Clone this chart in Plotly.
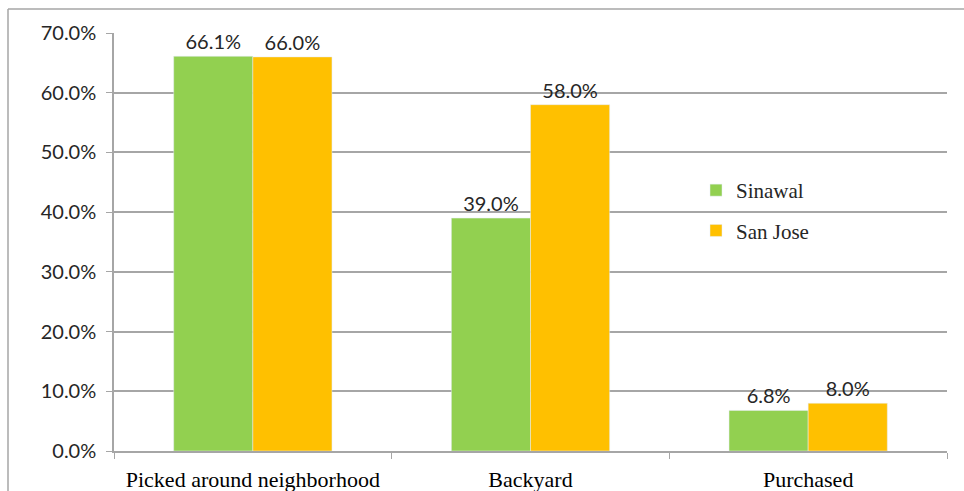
import plotly.graph_objects as go

categories = ["Picked around neighborhood", "Backyard", "Purchased"]
sinawal = [0.661, 0.390, 0.068]
san_jose = [0.660, 0.580, 0.080]
sinawal_labels = ["66.1%", "39.0%", "6.8%"]
san_jose_labels = ["66.0%", "58.0%", "8.0%"]
y_ticks = [0, 0.1, 0.2, 0.3, 0.4, 0.5, 0.6, 0.7]
y_tick_labels = ["0.0%", "10.0%", "20.0%", "30.0%", "40.0%", "50.0%", "60.0%", "70.0%"]

sans = "Lato, 'Open Sans', sans-serif"
serif = "'Liberation Serif', 'Times New Roman', serif"

fig = go.Figure()
fig.add_trace(go.Bar(name="Sinawal", x=categories, y=sinawal, marker_color="#92D050",
                     legendgroup="a",
                     text=sinawal_labels, textposition="outside", cliponaxis=False,
                     textfont=dict(family=sans, size=20, color="#262626")))
fig.add_trace(go.Bar(name="San Jose", x=categories, y=san_jose, marker_color="#FFC000",
                     legendgroup="b",
                     text=san_jose_labels, textposition="outside", cliponaxis=False,
                     textfont=dict(family=sans, size=20, color="#262626")))

L, R, T, B = 114, 17, 33, 40
W, H = 964, 491
pw = W - L - R
ph = H - T - B

fig.update_layout(
    width=W, height=H,
    margin=dict(l=L, r=R, t=T, b=B, autoexpand=False),
    barmode="group", bargap=0.43, bargroupgap=0,
    plot_bgcolor="white", paper_bgcolor="white",
    showlegend=True,
    legend=dict(x=(696 - L) / pw, y=(451 - 170) / ph, xanchor="left", yanchor="top",
                font=dict(family=serif, size=21, color="#262626"),
                bgcolor="rgba(0,0,0,0)", tracegroupgap=10, traceorder="grouped"),
    uniformtext=dict(mode=False),
)
fig.update_yaxes(range=[0, 0.7], tickvals=y_ticks, ticktext=y_tick_labels,
                 showgrid=True, gridcolor="#A6A6A6", gridwidth=1.5,
                 showline=True, linecolor="#A6A6A6", linewidth=1.5,
                 ticks="outside", ticklen=6, tickcolor="#A6A6A6",
                 ticklabelstandoff=6, automargin=False,
                 tickfont=dict(family=sans, size=20, color="#262626"),
                 zeroline=False)
fig.update_xaxes(showline=True, linecolor="#A6A6A6", linewidth=1.5,
                 ticks="outside", ticklen=6, tickcolor="#A6A6A6", tickson="boundaries",
                 ticklabelstandoff=8, automargin=False,
                 tickfont=dict(family=serif, size=22, color="#000000"))

# figure border (top and left)
fig.add_shape(type="line", xref="paper", yref="paper",
              x0=(8 - L) / pw, x1=(W - L) / pw, y0=(H - B - 9) / ph, y1=(H - B - 9) / ph,
              line=dict(color="#A6A6A6", width=1.5))
fig.add_shape(type="line", xref="paper", yref="paper",
              x0=(8 - L) / pw, x1=(8 - L) / pw, y0=(H - B - 9) / ph, y1=-B / ph,
              line=dict(color="#A6A6A6", width=1.5))

fig.write_html("out.html")
